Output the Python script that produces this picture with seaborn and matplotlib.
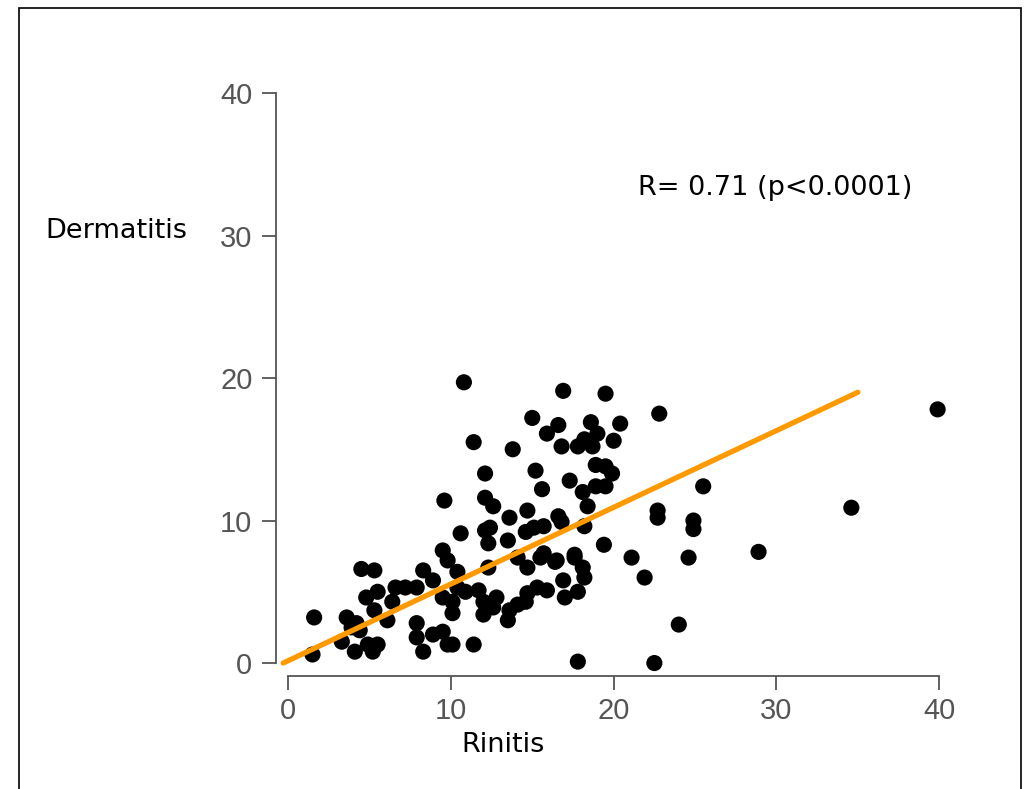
import numpy as np
import pandas as pd
import matplotlib
matplotlib.use("Agg")
import matplotlib.pyplot as plt
from matplotlib.patches import Rectangle
import seaborn as sns

# Rinitis / Dermatitis scores
rinitis = [
    1.6, 1.5, 4.5, 5.3, 5.5, 4.8, 3.6, 3.9, 4.4, 4.2, 5.3, 6.1, 6.4, 6.6, 7.2,
    7.9, 8.3, 8.9, 9.5, 7.9, 7.9, 8.3, 8.9, 9.5, 9.8, 3.3, 4.1, 4.9, 5.2, 5.5,
    9.8, 10.4, 10.4, 10.1, 10.1, 10.9, 11.7, 12.0, 12.0, 12.6, 12.8, 13.5, 13.6,
    14.1, 14.6, 14.7, 15.3, 15.9, 14.7, 14.1, 15.5, 16.4, 16.9, 17.0, 17.8, 18.2,
    18.1, 17.6, 10.1, 11.4, 17.8, 12.3,
    11.4, 13.8, 12.1, 15.2, 9.6, 12.1, 12.6, 15.6, 17.3, 18.1, 18.4, 18.9, 18.9,
    14.7, 13.6, 10.6, 12.1, 12.4, 12.3, 13.5, 14.6, 15.1, 15.7, 16.6, 16.8, 18.2,
    9.5, 15.7, 16.5, 17.6, 15.9, 16.6, 16.8, 17.8, 18.2, 18.7, 18.6, 19.0,
    10.8, 16.9, 15.0, 19.5, 22.8, 20.4, 20.0, 19.5, 19.9, 19.5, 25.5, 22.7, 22.7,
    24.9, 24.9, 19.4, 21.1, 24.6, 21.9, 24.0, 22.5, 28.9, 34.6, 39.9,
]
dermatitis = [
    3.2, 0.6, 6.6, 6.5, 5.0, 4.6, 3.2, 2.5, 2.3, 2.8, 3.7, 3.0, 4.3, 5.3, 5.3,
    5.3, 6.5, 5.8, 4.6, 2.8, 1.8, 0.8, 2.0, 2.2, 1.3, 1.5, 0.8, 1.3, 0.8, 1.3,
    7.2, 6.4, 5.3, 3.5, 4.3, 5.0, 5.1, 4.3, 3.4, 3.9, 4.6, 3.0, 3.7,
    4.1, 4.3, 4.9, 5.3, 5.1, 6.7, 7.4, 7.4, 7.1, 5.8, 4.6, 5.0, 6.0,
    6.7, 7.4, 1.3, 1.3, 0.1, 6.7,
    15.5, 15.0, 13.3, 13.5, 11.4, 11.6, 11.0, 12.2, 12.8, 12.0, 11.0, 13.9, 12.4,
    10.7, 10.2, 9.1, 9.3, 9.5, 8.4, 8.6, 9.2, 9.5, 9.6, 10.3, 9.9, 9.6,
    7.9, 7.7, 7.2, 7.6, 16.1, 16.7, 15.2, 15.2, 15.7, 15.2, 16.9, 16.1,
    19.7, 19.1, 17.2, 18.9, 17.5, 16.8, 15.6, 13.8, 13.3, 12.4, 12.4, 10.7, 10.2,
    10.0, 9.4, 8.3, 7.4, 7.4, 6.0, 2.7, 0.0, 7.8, 10.9, 17.8,
]

# regression line as drawn (end points)
fit_x = [-0.3, 35.0]
fit_y = [0.0, 19.0]

ticks = [0, 10, 20, 30, 40]

df = pd.DataFrame({"Rinitis": rinitis, "Dermatitis": dermatitis})
line_df = pd.DataFrame({"x": fit_x, "y": fit_y})

sns.set_style("ticks")
plt.rcParams["font.family"] = ["DejaVu Sans"]

fig = plt.figure(figsize=(10.3, 7.89), dpi=100)
ax = fig.add_axes([0.268, 0.1432, 0.6597, 0.757])

sns.scatterplot(data=df, x="Rinitis", y="Dermatitis", ax=ax, color="black",
                s=135, edgecolor="none", zorder=2)
sns.lineplot(data=line_df, x="x", y="y", ax=ax, color="#FF9900",
             linewidth=3.8, zorder=3)

ax.set_xlim(-0.74, 41)
ax.set_ylim(-0.91, 41)
ax.set_xticks(ticks)
ax.set_yticks(ticks)
ax.set_xlabel("")
ax.set_ylabel("")

for side in ["top", "right"]:
    ax.spines[side].set_visible(False)
for side in ["left", "bottom"]:
    ax.spines[side].set_bounds(0, 40)
    ax.spines[side].set_color("#555555")
    ax.spines[side].set_linewidth(1.3)

ax.tick_params(axis="both", length=10, width=1.3, color="#555555",
               labelcolor="#555555", labelsize=21)
ax.tick_params(axis="x", pad=5)
ax.tick_params(axis="y", pad=7)
for lab in ax.get_xticklabels() + ax.get_yticklabels():
    lab.set_family("Liberation Sans")

fig.text(0.0437, 0.707, "Dermatitis", fontsize=19.5, va="center", ha="left",
         color="black")
fig.text(0.488, 0.0558, "Rinitis", fontsize=19.5, va="center", ha="center",
         color="black")
fig.text(0.619, 0.762, "R= 0.71 (p<0.0001)", fontsize=19.5, va="center",
         ha="left", color="black")

# outer frame
fig.patches.append(Rectangle((19 / 1030, -0.02), 1002 / 1030, 1.02 - 8 / 789,
                             transform=fig.transFigure, fill=False,
                             edgecolor="black", linewidth=1.2))

fig.savefig("out.png", dpi=100)
